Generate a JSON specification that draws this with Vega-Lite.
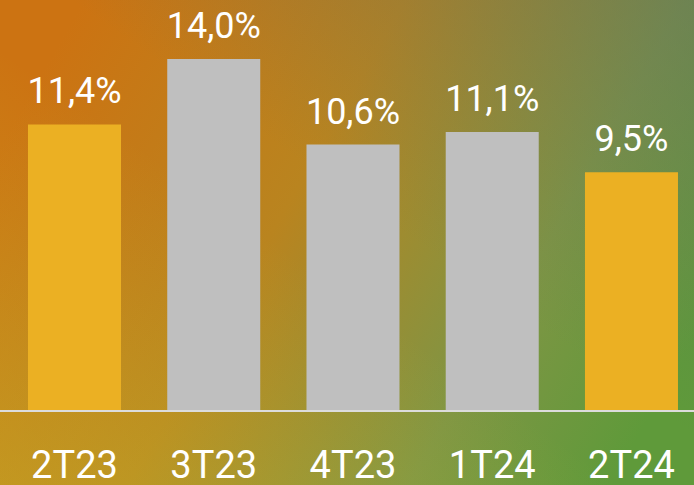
{
  "$schema": "https://vega.github.io/schema/vega-lite/v6.json",
  "width": 694,
  "height": 485,
  "padding": 0,
  "autosize": "none",
  "config": {
    "view": {
      "stroke": null,
      "fill": {
        "gradient": "linear",
        "x1": 0, "y1": 0.3, "x2": 1, "y2": 0.7,
        "stops": [
          {"offset": 0, "color": "#cc7312"},
          {"offset": 0.4, "color": "#b9841f"},
          {"offset": 0.75, "color": "#7f9544"},
          {"offset": 1, "color": "#5f9a3a"}
        ]
      }
    },
    "text": {"font": "Roboto, sans-serif", "color": "white"}
  },
  "resolve": {"scale": {"x": "independent"}},
  "layer": [
    {
      "data": {"values": [{}]},
      "mark": {
        "type": "rect",
        "fill": {
          "gradient": "linear",
          "x1": 1, "y1": 0, "x2": 0, "y2": 1,
          "stops": [
            {"offset": 0, "color": "rgba(90,110,100,0.45)"},
            {"offset": 0.45, "color": "rgba(90,110,100,0)"},
            {"offset": 0.55, "color": "rgba(200,200,45,0)"},
            {"offset": 1, "color": "rgba(200,200,45,0.35)"}
          ]
        }
      },
      "encoding": {
        "x": {"datum": 0, "type": "quantitative", "axis": null, "scale": {"domain": [0, 1], "nice": false}},
        "x2": {"datum": 1},
        "y": {"datum": 0.1635, "type": "quantitative", "axis": null},
        "y2": {"datum": -0.0294}
      }
    },
    {
      "data": {
        "values": [
          {"trimestre": "2T23", "valor": 0.114, "rotulo": "11,4%", "tipo": "destaque"},
          {"trimestre": "3T23", "valor": 0.140, "rotulo": "14,0%", "tipo": "outro"},
          {"trimestre": "4T23", "valor": 0.106, "rotulo": "10,6%", "tipo": "outro"},
          {"trimestre": "1T24", "valor": 0.111, "rotulo": "11,1%", "tipo": "outro"},
          {"trimestre": "2T24", "valor": 0.095, "rotulo": "9,5%", "tipo": "destaque"}
        ]
      },
      "layer": [
        {
          "mark": {"type": "bar"},
          "encoding": {
            "x": {
              "field": "trimestre", "type": "nominal", "sort": null, "axis": null,
              "scale": {"paddingInner": 0.332, "paddingOuter": 0.158, "align": 0.636}
            },
            "y": {"field": "valor", "type": "quantitative", "axis": null,
                  "scale": {"domain": [-0.0294, 0.1635], "nice": false, "zero": false}},
            "color": {"field": "tipo", "type": "nominal", "legend": null,
                      "scale": {"domain": ["destaque", "outro"], "range": ["#ebb023", "#bfbfbf"]}}
          }
        },
        {
          "mark": {"type": "rule", "color": "#dcdcdc", "strokeWidth": 2},
          "encoding": {"y": {"datum": 0, "type": "quantitative"}}
        },
        {
          "mark": {"type": "text", "fontSize": 36, "dy": -21, "baseline": "alphabetic"},
          "encoding": {
            "x": {"field": "trimestre", "type": "nominal", "sort": null},
            "y": {"field": "valor", "type": "quantitative"},
            "text": {"field": "rotulo", "type": "nominal"}
          }
        },
        {
          "mark": {"type": "text", "fontSize": 38, "baseline": "alphabetic"},
          "encoding": {
            "x": {"field": "trimestre", "type": "nominal", "sort": null},
            "y": {"datum": -0.0268, "type": "quantitative"},
            "text": {"field": "trimestre", "type": "nominal"}
          }
        }
      ]
    }
  ]
}
